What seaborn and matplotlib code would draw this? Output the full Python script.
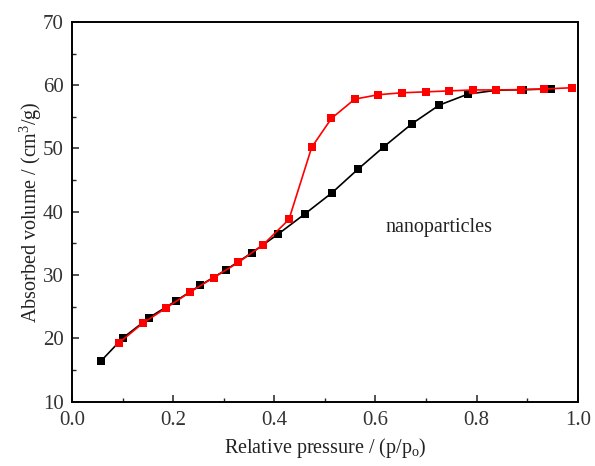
import numpy as np
import pandas as pd
import matplotlib
matplotlib.use("Agg")
import matplotlib.pyplot as plt
from matplotlib.ticker import MultipleLocator
import seaborn as sns

# adsorption branch (black)
ads_p = [0.057, 0.101, 0.153, 0.205, 0.254, 0.304, 0.356, 0.408, 0.461, 0.514,
         0.565, 0.617, 0.672, 0.726, 0.783, 0.839, 0.892, 0.947]
ads_v = [16.4, 20.1, 23.3, 25.9, 28.4, 30.8, 33.55, 36.5, 39.7, 43.0,
         46.7, 50.3, 53.9, 56.85, 58.6, 59.2, 59.3, 59.4]

# desorption branch (red)
des_p = [0.093, 0.140, 0.186, 0.233, 0.280, 0.329, 0.378, 0.429, 0.474, 0.513,
         0.559, 0.606, 0.652, 0.699, 0.746, 0.792, 0.839, 0.887, 0.933, 0.989]
des_v = [19.3, 22.4, 24.8, 27.3, 29.6, 32.0, 34.8, 38.8, 50.2, 54.75,
         57.8, 58.5, 58.8, 58.95, 59.1, 59.25, 59.25, 59.3, 59.4, 59.6]

ads = pd.DataFrame({"p": ads_p, "v": ads_v})
des = pd.DataFrame({"p": des_p, "v": des_v})

sns.set_style("ticks")
plt.rcParams["font.family"] = ["Liberation Serif", "DejaVu Serif"]
plt.rcParams["mathtext.fontset"] = "custom"
plt.rcParams["mathtext.rm"] = "Liberation Serif"
plt.rcParams["mathtext.it"] = "Liberation Serif:italic"

fig = plt.figure(figsize=(5.95, 4.66), dpi=100)
ax = fig.add_axes([0.121, 0.138, 0.850, 0.815])

sns.lineplot(data=ads, x="p", y="v", ax=ax, color="black", marker="s",
             markersize=5.5, markeredgewidth=0, linewidth=1.2, sort=False)
sns.lineplot(data=des, x="p", y="v", ax=ax, color="red", marker="s",
             markersize=5.5, markeredgewidth=0, linewidth=1.2, sort=False)

ax.set_xlim(0.0, 1.0)
ax.set_ylim(10, 70)
ax.xaxis.set_major_locator(MultipleLocator(0.2))
ax.xaxis.set_minor_locator(MultipleLocator(0.1))
ax.yaxis.set_major_locator(MultipleLocator(10))
ax.yaxis.set_minor_locator(MultipleLocator(5))
ax.xaxis.set_major_formatter(matplotlib.ticker.FormatStrFormatter("%.1f"))
ax.tick_params(which="major", direction="in", length=5, width=1.2, labelsize=15, colors="#333333")
ax.tick_params(axis="x", which="major", pad=7)
ax.tick_params(axis="y", which="major", pad=6)
ax.tick_params(which="minor", direction="in", length=3, width=1.0)
for s in ax.spines.values():
    s.set_linewidth(1.4)
    s.set_color("black")

ax.set_xlabel("Relative pressure / (p/p$_\\mathrm{o}$)", fontsize=14.5, color="#222222", labelpad=4)
ax.set_ylabel("Absorbed volume / (cm$^\\mathrm{3}$/g)", fontsize=14.5, color="#222222", labelpad=-1)
ax.text(0.619, 36.8, "nanoparticles", fontsize=14.5, color="#222222")

fig.savefig("out.png", dpi=100)
